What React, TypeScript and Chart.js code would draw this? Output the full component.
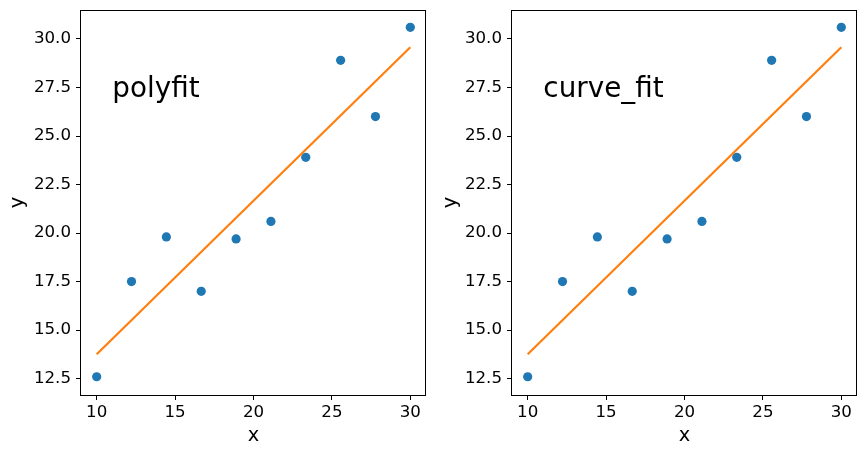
import React, { useEffect, useRef } from "react";
import { Chart, registerables } from "chart.js";

Chart.register(...registerables);

const xValues = [10, 12.222, 14.444, 16.667, 18.889, 21.111, 23.333, 25.556, 27.778, 30];
const yValues = [12.6, 17.5, 19.8, 17.0, 19.7, 20.6, 23.9, 28.9, 26.0, 30.6];
const fitX = [10, 30];
const fitY = [13.76, 29.57];
const xTicks = [10, 15, 20, 25, 30];
const yTicks = [12.5, 15.0, 17.5, 20.0, 22.5, 25.0, 27.5, 30.0];
const panelLabels = ["polyfit", "curve_fit"];
const labelPos = { x: 11, y: 27 };

const FONT = "'DejaVu Sans', sans-serif";

const framePlugin = {
  id: "frame",
  afterDatasetsDraw(chart: any) {
    const { ctx, chartArea } = chart;
    ctx.save();
    ctx.strokeStyle = "#000";
    ctx.lineWidth = 1;
    ctx.strokeRect(
      Math.round(chartArea.left) - 0.5,
      Math.round(chartArea.top) + 0.5,
      Math.round(chartArea.right - chartArea.left) + 0,
      Math.round(chartArea.bottom - chartArea.top) - 0
    );
    ctx.restore();
  },
};

const annotationPlugin = {
  id: "panelText",
  afterDraw(chart: any) {
    const text = chart.options.plugins.panelText?.text;
    if (!text) return;
    const { ctx, scales } = chart;
    const px = scales.x.getPixelForValue(labelPos.x);
    const py = scales.y.getPixelForValue(labelPos.y);
    ctx.save();
    ctx.fillStyle = "#000";
    ctx.font = `27.8px ${FONT}`;
    ctx.textAlign = "left";
    ctx.textBaseline = "alphabetic";
    ctx.fillText(text, px, py);
    ctx.restore();
  },
};

function Panel({ text, left, yWidth, padRight }: { text: string; left: number; yWidth: number; padRight: number }) {
  const ref = useRef<HTMLCanvasElement>(null);
  useEffect(() => {
    if (!ref.current) return;
    const chart = new Chart(ref.current, {
      type: "scatter",
      data: {
        datasets: [
          {
            type: "line",
            data: fitX.map((x, i) => ({ x, y: fitY[i] })),
            borderColor: "#ff7f0e",
            borderWidth: 2.2,
            pointRadius: 0,
            fill: false,
            tension: 0,
          },
          {
            type: "scatter",
            data: xValues.map((x, i) => ({ x, y: yValues[i] })),
            backgroundColor: "#1f77b4",
            borderColor: "#1f77b4",
            borderWidth: 0,
            pointRadius: 4.6,
          },
        ],
      },
      options: {
        animation: false,
        responsive: false,
        maintainAspectRatio: false,
        layout: { padding: { top: 10, right: padRight, bottom: 0, left: 0 } },
        plugins: {
          legend: { display: false },
          tooltip: { enabled: false },
          panelText: { text },
        } as any,
        scales: {
          x: {
            type: "linear",
            min: 9,
            max: 31,
            afterBuildTicks: (scale: any) => {
              scale.ticks = xTicks.map((v) => ({ value: v }));
            },
            afterFit: (scale: any) => {
              scale.height = 59;
              scale.paddingLeft = 0;
              scale.paddingRight = 0;
            },
            ticks: {
              color: "#000",
              font: { family: FONT, size: 16.67 },
              padding: 3,
              maxRotation: 0,
              callback: (v: any) => String(v),
            },
            grid: { drawOnChartArea: false, drawTicks: true, tickLength: 5, color: "#000" },
            border: { display: false },
            title: {
              display: true,
              text: "x",
              color: "#000",
              font: { family: FONT, size: 19.4 },
              padding: { top: 0, bottom: 6 },
            },
          },
          y: {
            type: "linear",
            min: 11.66,
            max: 31.49,
            afterBuildTicks: (scale: any) => {
              scale.ticks = yTicks.map((v) => ({ value: v }));
            },
            afterFit: (scale: any) => {
              scale.width = yWidth;
              scale.paddingTop = 0;
              scale.paddingBottom = 0;
            },
            ticks: {
              color: "#000",
              font: { family: FONT, size: 16.67 },
              padding: 5,
              callback: (v: any) => Number(v).toFixed(1),
            },
            grid: { drawOnChartArea: false, drawTicks: true, tickLength: 5, color: "#000" },
            border: { display: false },
            title: {
              display: true,
              text: "y",
              color: "#000",
              font: { family: FONT, size: 19.4 },
              padding: { top: 6, bottom: 0 },
            },
          },
        },
      },
      plugins: [framePlugin, annotationPlugin],
    } as any);
    return () => chart.destroy();
  }, [text, yWidth, padRight]);
  return (
    <canvas
      ref={ref}
      width={433}
      height={454}
      style={{ position: "absolute", left, top: 0, width: 433, height: 454 }}
    />
  );
}

export default function App() {
  return (
    <div style={{ position: "fixed", left: 0, top: 0, width: 866, height: 454, background: "#fff" }}>
      <Panel text={panelLabels[0]} left={0} yWidth={81} padRight={7} />
      <Panel text={panelLabels[1]} left={433} yWidth={79} padRight={9} />
    </div>
  );
}
